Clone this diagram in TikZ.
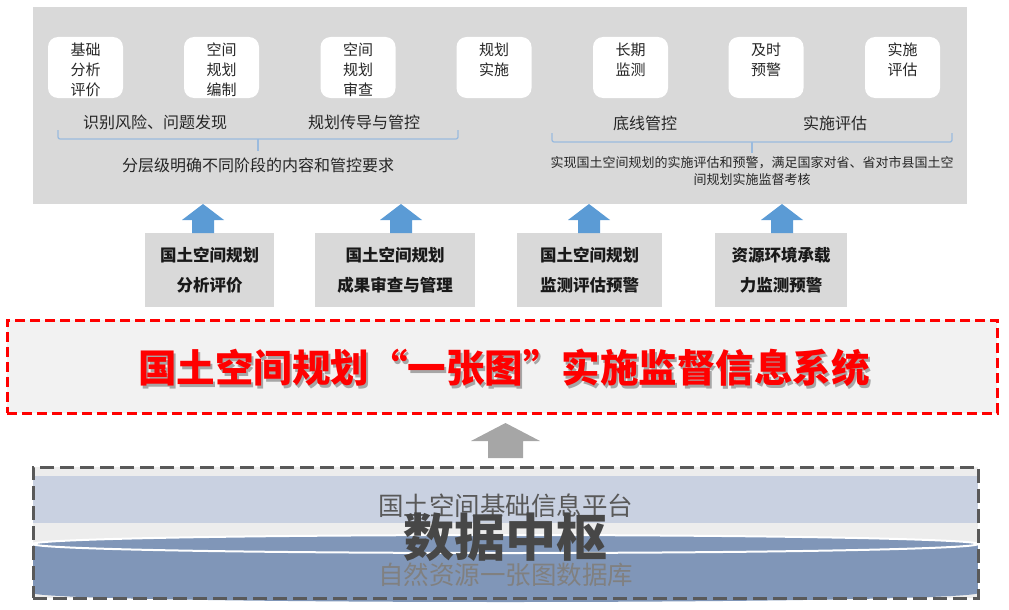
\documentclass[tikz,border=0pt]{standalone}
\usepackage{fontspec}
\setmainfont{Noto Sans CJK SC}
\usepackage{xcolor}
\usepackage{tikz}
\usetikzlibrary{positioning,calc}
\definecolor{panelgrey}{HTML}{D9D9D9}
\definecolor{bracebl}{HTML}{9BBBDE}
\definecolor{arrowblue}{HTML}{5B9BD5}
\definecolor{sysred}{HTML}{FF0000}
\definecolor{sysfill}{HTML}{F2F2F2}
\definecolor{hubgrey}{HTML}{595959}
\definecolor{hubbg}{HTML}{EDEDED}
\definecolor{hubband}{HTML}{C9D1E1}
\definecolor{cylblue}{HTML}{8096B8}
\definecolor{uparrowgrey}{HTML}{A6A6A6}

\begin{document}
\begin{tikzpicture}[x=1pt, y=-1pt,
  panel/.style={fill=panelgrey, inner sep=0, minimum width=934, minimum height=197},
  stagebox/.style={fill=white, rounded corners=10, inner sep=0, minimum width=75, minimum height=61},
  stagetext/.style={inner sep=0, align=center, font=\fontsize{15}{20}\selectfont, text=black!85},
  midlabel/.style={inner sep=0, font=\fontsize{16}{20}\selectfont, text=black!85},
  smalllabel/.style={inner sep=0, align=center, font=\fontsize{13}{17}\selectfont, text=black!85},
  brace/.style={draw=bracebl, line width=1.3, rounded corners=2},
  toolbox/.style={fill=panelgrey, inner sep=0, minimum height=74, align=center,
    font=\fontsize{16.5}{30}\selectfont\bfseries, text=black!90},
  bluearrow/.style={fill=arrowblue},
  systembox/.style={draw=sysred, fill=sysfill, line width=3, dash pattern=on 10 off 5,
    inner sep=0, minimum width=990, minimum height=93},
  systitle/.style={inner sep=0, font=\fontsize{38.5}{42}\selectfont\bfseries},
  greyarrow/.style={fill=uparrowgrey},
  hubbox/.style={draw=hubgrey, line width=3, dash pattern=on 14 off 6, inner sep=0,
    minimum width=945, minimum height=131},
  hubtext/.style={inner sep=0, font=\fontsize{25.5}{28}\selectfont}]
\useasboundingbox (0,0) rectangle (1009,610);

% top panel with the stages
\node[panel] (top) at (500,105.5) {};
\foreach \n/\x/\txt in {s1/85.5/{基础\\分析\\评价}, s2/221.5/{空间\\规划\\编制},
    s3/358/{空间\\规划\\审查}, s4/494/{规划\\实施}, s5/630.5/{长期\\监测},
    s6/766/{及时\\预警}, s7/902.5/{实施\\评估}} {
  \node[stagebox] (\n) at (\x,67.5) {};
  \node[stagetext, below=6pt of \n.north] {\txt};
}
\node[midlabel] (risk) at (155,122) {识别风险、问题发现};
\node[midlabel] (guide) at (364,122) {规划传导与管控};
\node[midlabel] (bottomline) at (645,123) {底线管控};
\node[midlabel] (evalu) at (835,123) {实施评估};
% braces
\draw[brace] (58,130) -- (58,139) -- (458,139) -- (458,130);
\draw[brace] (258,139) -- (258,151);
\draw[brace] (552,133) -- (552,142) -- (952,142) -- (952,133);
\draw[brace] (752,142) -- (752,153);
\node[midlabel] (goalleft) at (258,165) {分层级明确不同阶段的内容和管控要求};
\node[smalllabel] (goalright) at (752,171.5) {实现国土空间规划的实施评估和预警，满足国家对省、省对市县国土空\\间规划实施监督考核};

% tool boxes
\node[toolbox, minimum width=129] (t1) at (209.5,270) {国土空间规划\\分析评价};
\node[toolbox, minimum width=160] (t2) at (395,270) {国土空间规划\\成果审查与管理};
\node[toolbox, minimum width=145] (t3) at (589.5,270) {国土空间规划\\监测评估预警};
\node[toolbox, minimum width=132] (t4) at (781,270) {资源环境承载\\力监测预警};
\foreach \x in {203,401,589,782} {
  \fill[bluearrow] (\x-11,233) -- (\x-11,220) -- (\x-21,220) -- (\x,204)
    -- (\x+21,220) -- (\x+11,220) -- (\x+11,233) -- cycle;
}

% system
\node[systembox] (sys) at (502,366.5) {};
\node[systitle, text=black!35] at (506,370.5) {国土空间规划“一张图”实施监督信息系统};
\node[systitle, text=sysred] (systitle) at (504,368) {国土空间规划“一张图”实施监督信息系统};
\fill[greyarrow] (488,458) -- (488,441) -- (471,441) -- (505.5,423) -- (540,441)
  -- (523,441) -- (523,458) -- cycle;

% data hub
\fill[hubbg] (33,467) rectangle (978,598);
\fill[hubband] (33,476) rectangle (978,523);
\fill[cylblue] (33,544) rectangle (978,593);
\fill[cylblue] (505.5,593) ellipse (472.5 and 9);
\draw[white, line width=2, fill=cylblue] (505.5,544) ellipse (472.5 and 9);
\node[hubtext, text=hubgrey] (platform) at (505.5,506) {国土空间基础信息平台};
\node[hubtext, text=black!50] (database) at (505.5,575) {自然资源一张图数据库};
\node[inner sep=0, font=\fontsize{51}{54}\selectfont\bfseries, text=black!72] (hubname) at (505.5,537) {数据中枢};
\node[hubbox] (hub) at (505.5,532.5) {};
\end{tikzpicture}
\end{document}
